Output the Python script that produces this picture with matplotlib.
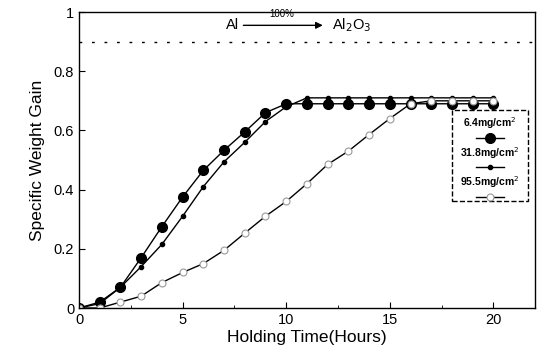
import matplotlib
matplotlib.use("Agg")
import matplotlib.pyplot as plt
from matplotlib.patches import Rectangle
from matplotlib.lines import Line2D

plt.rcParams['font.family'] = ['Liberation Sans', 'DejaVu Sans']

hours = list(range(0, 21))
gain_6_4 = [0, 0.02, 0.07, 0.17, 0.275, 0.375, 0.465, 0.533, 0.595, 0.66, 0.69,
            0.69, 0.69, 0.69, 0.69, 0.69, 0.69, 0.69, 0.69, 0.69, 0.69]
gain_31_8 = [0, 0.015, 0.07, 0.14, 0.215, 0.31, 0.41, 0.494, 0.56, 0.63, 0.68,
             0.71, 0.71, 0.71, 0.71, 0.71, 0.71, 0.71, 0.71, 0.71, 0.71]
gain_95_5 = [0, 0.0, 0.02, 0.04, 0.086, 0.12, 0.15, 0.195, 0.253, 0.31, 0.36,
             0.42, 0.485, 0.53, 0.586, 0.64, 0.69, 0.70, 0.70, 0.70, 0.70]
theoretical = 0.9
labels = ["6.4mg/cm$^2$", "31.8mg/cm$^2$", "95.5mg/cm$^2$"]
xticks = [0, 5, 10, 15, 20]
yticks = [0, 0.2, 0.4, 0.6, 0.8, 1]
yticklabels = ["0", "0.2", "0.4", "0.6", "0.8", "1"]

fig = plt.figure(figsize=(5.43, 3.64), dpi=100)
ax = fig.add_axes([0.1455, 0.1538, 0.8395, 0.8132])

ax.plot(hours, gain_6_4, color='black', lw=1.0, marker='o', ms=7,
        mfc='black', mec='black')
ax.plot(hours, gain_31_8, color='black', lw=1.0, marker='o', ms=3,
        mfc='black', mec='black')
ax.plot(hours, gain_95_5, color='black', lw=1.0, marker='o', ms=5,
        mfc='white', mec='#999999', mew=0.8)

ax.axhline(theoretical, color='black', lw=1.0, ls=(0, (2, 7)))

ax.set_xlim(0, 22)
ax.set_ylim(0, 1.0)
ax.set_xticks(xticks)
ax.set_yticks(yticks)
ax.set_yticklabels(yticklabels)
ax.set_xticks([2.5, 7.5, 12.5, 17.5], minor=True)
ax.tick_params(direction='in', length=4, labelsize=10.5, width=0.8)
ax.tick_params(which='minor', direction='in', length=2)
for s in ax.spines.values():
    s.set_linewidth(1.0)

ax.set_xlabel("Holding Time(Hours)", fontsize=12.5, labelpad=2)
ax.set_ylabel("Specific Weight Gain", fontsize=12.5, labelpad=6)

# reaction annotation
ax.text(7.1, 0.955, "Al", fontsize=10.5, ha='left', va='center')
ax.annotate("", xy=(11.9, 0.955), xytext=(7.8, 0.955),
            arrowprops=dict(arrowstyle='-|>', color='black', lw=1.0,
                            mutation_scale=10))
ax.text(9.8, 0.978, "100%", fontsize=7, ha='center', va='bottom')
ax.text(12.2, 0.955, "Al$_2$O$_3$", fontsize=10.5, ha='left', va='center')

# legend box (labels above markers)
bx0, by0, bw, bh = 0.819, 0.36, 0.165, 0.31
ax.add_patch(Rectangle((bx0, by0), bw, bh, transform=ax.transAxes, fill=True,
                       fc='white', ec='black', lw=1.0, ls='--', zorder=5))
styles = [dict(ms=7, mfc='black', mec='black'),
          dict(ms=3, mfc='black', mec='black'),
          dict(ms=5, mfc='white', mec='#999999', mew=0.8)]
for i, (lab, st) in enumerate(zip(labels, styles)):
    ty = by0 + bh - 0.045 - i * 0.1
    ax.text(bx0 + bw / 2, ty, lab, transform=ax.transAxes, fontsize=7.5,
            fontweight='bold', ha='center', va='center', zorder=6)
    ly = ty - 0.05
    ax.add_line(Line2D([bx0 + bw / 2 - 0.03, bx0 + bw / 2 + 0.03], [ly, ly],
                       transform=ax.transAxes, color='black', lw=1.0,
                       zorder=6))
    ax.add_line(Line2D([bx0 + bw / 2], [ly], transform=ax.transAxes,
                       marker='o', ls='none', zorder=7, **st))

fig.savefig("out.png", dpi=100)
